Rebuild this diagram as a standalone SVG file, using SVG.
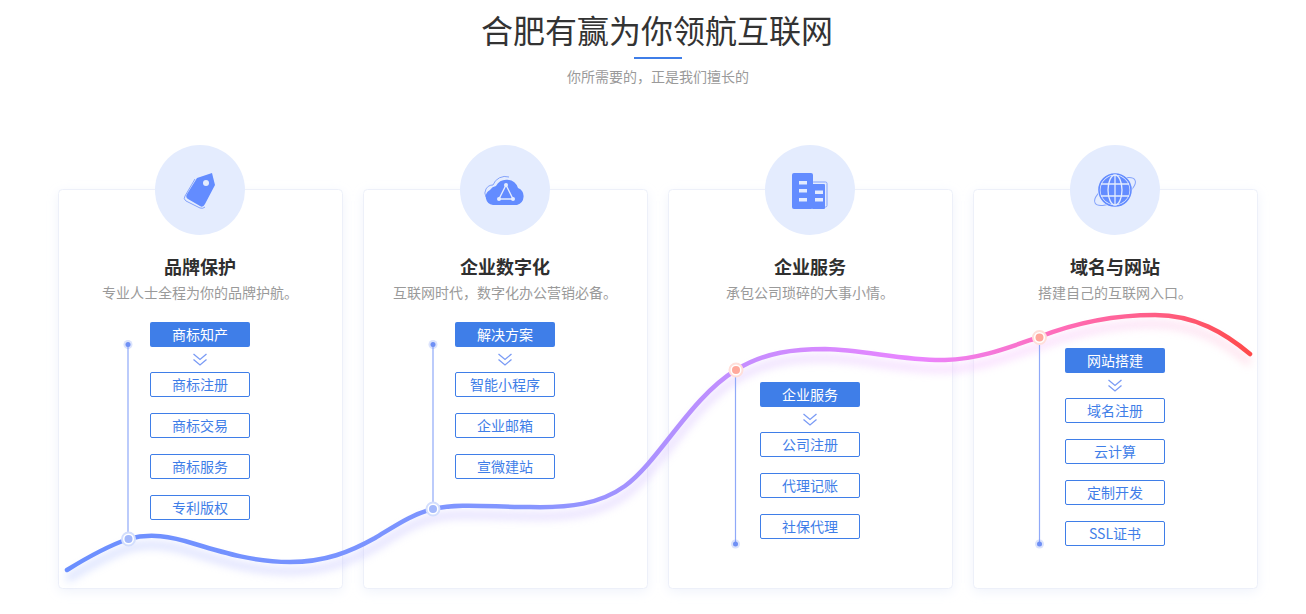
<svg xmlns="http://www.w3.org/2000/svg" width="1306" height="614" viewBox="0 0 1306 614">
<style>
text{font-family:"Microsoft YaHei","Noto Sans CJK SC",sans-serif;text-anchor:middle}
.card{fill:#fff;stroke:#edf0f9;stroke-width:1;filter:url(#cs)}
.disc{fill:#e4ecfe}
.t{font-size:18px;font-weight:700;fill:#2f2f2f}
.d{font-size:14px;fill:#9a9a9a}
.p{fill:#3f7ee8}
.pt{font-size:14px;fill:#fff}
.o{fill:#fff;stroke:#3f7ee8;stroke-width:1}
.ot{font-size:14px;fill:#3f7ee8}
.ch{fill:none;stroke:#7a9bf5;stroke-width:1.3}
.v{stroke:#8fa9f8;stroke-width:1.2;fill:none}
.ic{fill:#638cff}
.bm{fill:#fff;stroke:#d3defd;stroke-width:2}
.bi{fill:#a4b9fb}
.rm{fill:#fff;stroke:#ffdfda;stroke-width:2}
.ri{fill:#ffa99c}
</style>
<defs>
<filter id="cs" x="-10%" y="-10%" width="120%" height="120%"><feDropShadow dx="0" dy="3" stdDeviation="6" flood-color="#dfe6f7" flood-opacity=".45"/></filter>
<filter id="b" x="-5%" y="-30%" width="110%" height="160%"><feGaussianBlur stdDeviation="4.500"/></filter>
<linearGradient id="g" gradientUnits="userSpaceOnUse" x1="67" y1="0" x2="1250" y2="0">
<stop offset="0" stop-color="#6b8fff"/><stop offset=".38" stop-color="#8296ff"/><stop offset=".55" stop-color="#c08fff"/><stop offset=".72" stop-color="#ea85ff"/><stop offset=".84" stop-color="#ff6cb8"/><stop offset=".94" stop-color="#ff5a78"/><stop offset="1" stop-color="#ff4a4a"/>
</linearGradient>
<linearGradient id="s" gradientUnits="userSpaceOnUse" x1="67" y1="0" x2="1250" y2="0">
<stop offset="0" stop-color="#b6c6ff"/><stop offset=".55" stop-color="#d9c0ff"/><stop offset=".8" stop-color="#f6c0ff"/><stop offset="1" stop-color="#ffc8dc"/>
</linearGradient>
<path id="c" d="M67 570C88 557 108 546 128 539C150 533 170 536 195 544C225 553 255 562 290 562C325 562 350 552 375 538C395 526 412 514 433 509C460 503 490 507 530 507C570 508 600 504 625 486C660 460 690 398 736 370C765 352 795 349 825 349C865 350 905 361 945 360C980 359 1010 347 1039 337C1075 323 1115 315 1155 315C1195 315 1225 333 1250 354"/>
<g id="chev"><path class="ch" d="M-6.500 -6L0 -.5L6.500 -6M-6.500 -.5L0 5L6.500 -.5"/></g>
</defs>
<rect width="1306" height="614" fill="#fff"/>
<g id="header">
<text x="657" y="43" font-size="32" fill="#333">合肥有赢为你领航互联网</text>
<rect x="634" y="57" width="48" height="2" fill="#3f7ee8"/>
<text x="658" y="82" font-size="14" fill="#9a9a9a">你所需要的，正是我们擅长的</text>
</g>
<g id="card1"><rect class="card" x="58.500" y="189.500" width="284" height="399" rx="4"/></g>
<g id="card2"><rect class="card" x="363.500" y="189.500" width="284" height="399" rx="4"/></g>
<g id="card3"><rect class="card" x="668.500" y="189.500" width="284" height="399" rx="4"/></g>
<g id="card4"><rect class="card" x="973.500" y="189.500" width="284" height="399" rx="4"/></g>
<g id="connectors">
<use href="#c" fill="none" stroke="url(#s)" stroke-width="7" opacity=".55" transform="translate(0 9)" filter="url(#b)"/>
<path class="v" d="M128 344V539M433 344V509M735.500 370V544M1039.500 337V544"/>
<g fill="#6f90f5"><circle cx="128" cy="344.500" r="4.500" opacity=".25"/><circle cx="128" cy="344.500" r="2.500"/><circle cx="433" cy="344.500" r="4.500" opacity=".25"/><circle cx="433" cy="344.500" r="2.500"/><circle cx="735.500" cy="544" r="4.500" opacity=".25"/><circle cx="735.500" cy="544" r="2.500"/><circle cx="1039.500" cy="544" r="4.500" opacity=".25"/><circle cx="1039.500" cy="544" r="2.500"/></g>
<use href="#c" fill="none" stroke="url(#g)" stroke-width="4.500" stroke-linecap="round"/>
<g><circle class="bm" cx="128.500" cy="539" r="6.500"/><circle class="bi" cx="128.500" cy="539" r="4"/><circle class="bm" cx="433" cy="509" r="6.500"/><circle class="bi" cx="433" cy="509" r="4"/><circle class="rm" cx="736" cy="370" r="6.500"/><circle class="ri" cx="736" cy="370" r="4"/><circle class="rm" cx="1039.500" cy="337.500" r="6.500"/><circle class="ri" cx="1039.500" cy="337.500" r="4"/></g>
</g>
<g id="node1">
<circle class="disc" cx="200" cy="190" r="45"/>
<path d="M195 179L185 196Q183 199 186 201L200 208Q203 209 205 207" fill="none" stroke="#84a3fb" stroke-width="1"/>
<path class="ic" d="M197 178L212 173L215 185L205 204Q203 208 200 206L188 199Q185 197 187 194Z"/>
<circle cx="206" cy="183" r="3" fill="#e4ecfe"/>
<text class="t" x="200" y="274">品牌保护</text>
<text class="d" x="200" y="298">专业人士全程为你的品牌护航。</text>
<rect class="p" x="150" y="322" width="100" height="25" rx="2"/><text class="pt" x="200" y="340">商标知产</text>
<use href="#chev" x="200" y="360"/>
<rect class="o" x="150.500" y="372.500" width="99" height="24" rx="1.500"/><text class="ot" x="200" y="390">商标注册</text>
<rect class="o" x="150.500" y="413.500" width="99" height="24" rx="1.500"/><text class="ot" x="200" y="431">商标交易</text>
<rect class="o" x="150.500" y="454.500" width="99" height="24" rx="1.500"/><text class="ot" x="200" y="472">商标服务</text>
<rect class="o" x="150.500" y="495.500" width="99" height="24" rx="1.500"/><text class="ot" x="200" y="513">专利版权</text>
</g>
<g id="node2">
<circle class="disc" cx="505" cy="190" r="45"/>
<path d="M486 197A8 8 0 0 1 493 185A13 13 0 0 1 509 177" fill="none" stroke="#84a3fb" stroke-width="1"/>
<path class="ic" d="M493 205A8 8 0 0 1 490 190A9 9 0 0 1 496 186A12 12 0 0 1 518 188A9 9 0 0 1 517 205Z"/>
<path d="M506 185L499 199H513Z" fill="none" stroke="#e4ecfe" stroke-width="1.400"/>
<g fill="#e4ecfe"><circle cx="506" cy="185" r="2"/><circle cx="499" cy="199" r="2"/><circle cx="513" cy="199" r="2"/></g>
<text class="t" x="505" y="274">企业数字化</text>
<text class="d" x="505" y="298">互联网时代，数字化办公营销必备。</text>
<rect class="p" x="455" y="322" width="100" height="25" rx="2"/><text class="pt" x="505" y="340">解决方案</text>
<use href="#chev" x="505" y="360"/>
<rect class="o" x="455.500" y="372.500" width="99" height="24" rx="1.500"/><text class="ot" x="505" y="390">智能小程序</text>
<rect class="o" x="455.500" y="413.500" width="99" height="24" rx="1.500"/><text class="ot" x="505" y="431">企业邮箱</text>
<rect class="o" x="455.500" y="454.500" width="99" height="24" rx="1.500"/><text class="ot" x="505" y="472">宣微建站</text>
</g>
<g id="node3">
<circle class="disc" cx="810" cy="190" r="45"/>
<rect x="812" y="182" width="15" height="25" rx="1.500" fill="none" stroke="#84a3fb"/>
<rect class="ic" x="792" y="173" width="21" height="36" rx="2"/>
<rect class="ic" x="812" y="184" width="13" height="25" rx="1"/>
<g fill="#e4ecfe"><rect x="799" y="181" width="8" height="3.500"/><rect x="799" y="189" width="8" height="3.500"/><rect x="799" y="198" width="8" height="3.500"/><rect x="815" y="190.500" width="8" height="3.500"/><rect x="815" y="198" width="8" height="3.500"/></g>
<text class="t" x="810" y="274">企业服务</text>
<text class="d" x="810" y="298">承包公司琐碎的大事小情。</text>
<rect class="p" x="760" y="382" width="100" height="25" rx="2"/><text class="pt" x="810" y="400">企业服务</text>
<use href="#chev" x="810" y="420"/>
<rect class="o" x="760.500" y="432.500" width="99" height="24" rx="1.500"/><text class="ot" x="810" y="450">公司注册</text>
<rect class="o" x="760.500" y="473.500" width="99" height="24" rx="1.500"/><text class="ot" x="810" y="491">代理记账</text>
<rect class="o" x="760.500" y="514.500" width="99" height="24" rx="1.500"/><text class="ot" x="810" y="532">社保代理</text>
</g>
<g id="node4">
<circle class="disc" cx="1115" cy="190" r="45"/>
<ellipse cx="1115" cy="191.500" rx="23" ry="9" transform="rotate(-30 1115 191.500)" fill="none" stroke="#84a3fb" stroke-width="1"/>
<circle cx="1115" cy="190" r="17.500" fill="#e4ecfe"/>
<circle cx="1115" cy="190" r="16" fill="none" stroke="#638cff" stroke-width="1.600"/>
<circle class="ic" cx="1115" cy="190" r="14.500"/>
<g fill="none" stroke="#e4ecfe" stroke-width="1.300"><ellipse cx="1115" cy="190" rx="7" ry="15"/><path d="M1115 175V205M1101 184H1129M1101 196H1129"/></g>
<text class="t" x="1115" y="274">域名与网站</text>
<text class="d" x="1115" y="298">搭建自己的互联网入口。</text>
<rect class="p" x="1065" y="348" width="100" height="25" rx="2"/><text class="pt" x="1115" y="366">网站搭建</text>
<use href="#chev" x="1115" y="386"/>
<rect class="o" x="1065.500" y="398.500" width="99" height="24" rx="1.500"/><text class="ot" x="1115" y="416">域名注册</text>
<rect class="o" x="1065.500" y="439.500" width="99" height="24" rx="1.500"/><text class="ot" x="1115" y="457">云计算</text>
<rect class="o" x="1065.500" y="480.500" width="99" height="24" rx="1.500"/><text class="ot" x="1115" y="498">定制开发</text>
<rect class="o" x="1065.500" y="521.500" width="99" height="24" rx="1.500"/><text class="ot" x="1115" y="539">SSL证书</text>
</g>
</svg>
